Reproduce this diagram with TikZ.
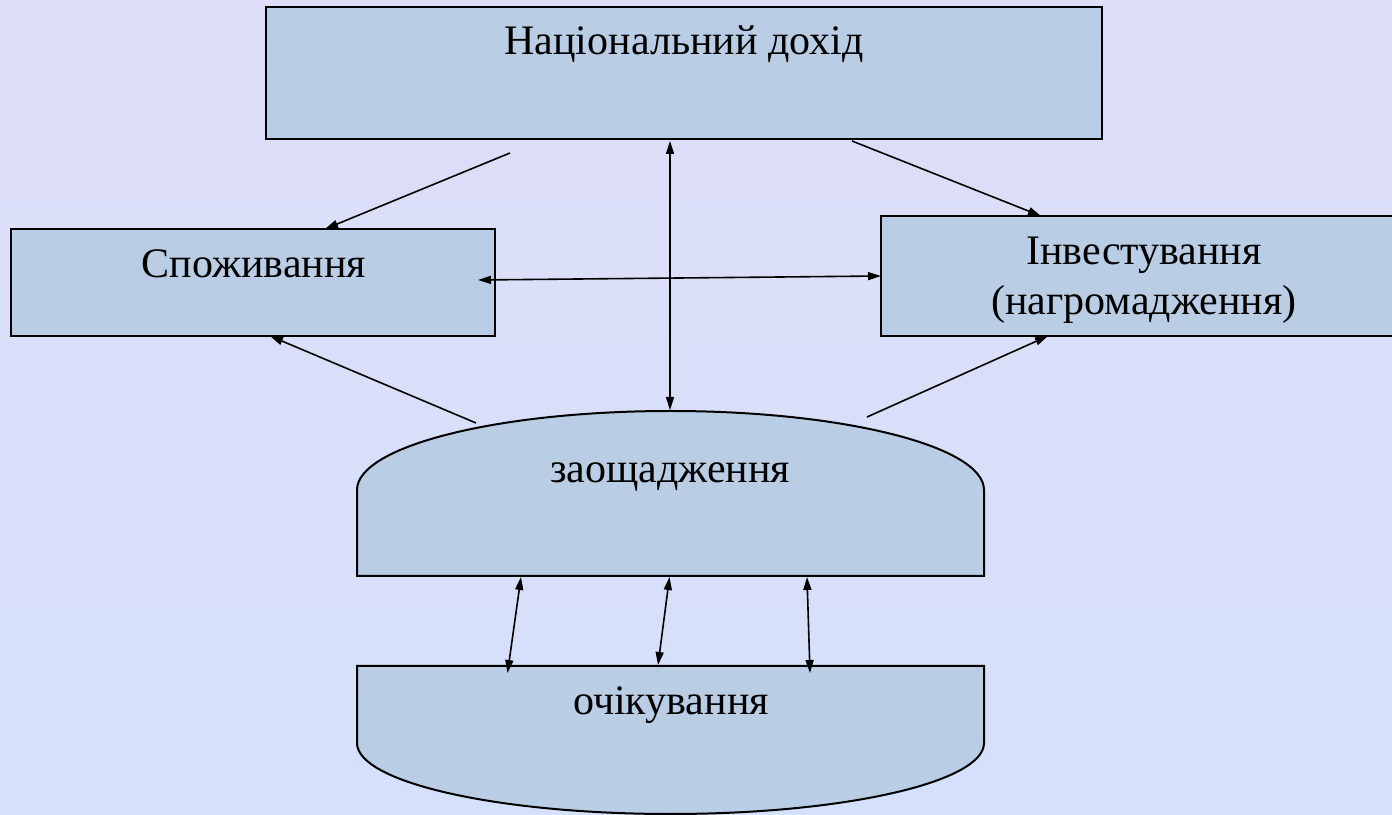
\documentclass[tikz,border=0pt]{standalone}
\usepackage{fontspec}
\setmainfont{Liberation Serif}
\usetikzlibrary{arrows.meta}
\definecolor{bgtop}{RGB}{222,222,246}
\definecolor{bgbot}{RGB}{212,224,252}
\definecolor{boxfill}{RGB}{185,205,229}
\tikzset{
  box/.style={draw=black, line width=2pt, fill=boxfill, rectangle, inner sep=0pt},
  lbl/.style={font=\fontsize{42}{50}\selectfont, inner sep=0pt, anchor=base, text=black},
  conn/.style={line width=1.6pt, -{Triangle[length=13pt,width=8pt]}},
  conn2/.style={line width=1.6pt, {Triangle[length=13pt,width=8pt]}-{Triangle[length=13pt,width=8pt]}},
}
\begin{document}
\begin{tikzpicture}[x=1pt,y=1pt]
\useasboundingbox (0,0) rectangle (1392,814);
\shade[top color=bgtop, bottom color=bgbot] (0,0) rectangle (1392,814);
\begin{scope}
\clip (0,0) rectangle (1392,814);
% boxes
\node[box, minimum width=836pt, minimum height=132pt] (nat) at (684,741) {};
\node[lbl] (natT) at (684,759) {Національний дохід};
\node[box, minimum width=484pt, minimum height=107pt] (cons) at (253,531.5) {};
\node[lbl] (consT) at (254,536) {Споживання};
\node[box, minimum width=524pt, minimum height=120pt] (inv) at (1143,538) {};
\node[lbl] (invT1) at (1144,549) {Інвестування};
\node[lbl] (invT2) at (1144,499) {(нагромадження)};
% savings shape
\draw[line width=2pt, fill=boxfill] (357,238) -- (357,324)
  arc[start angle=180, end angle=0, x radius=313.5pt, y radius=79pt] -- (984,238) -- cycle;
\coordinate (sav) at (670.5,300);
\node[lbl] (savT) at (670,331) {заощадження};
% expectations shape
\draw[line width=2pt, fill=boxfill] (357,148) -- (357,71)
  arc[start angle=180, end angle=360, x radius=313.5pt, y radius=71pt] -- (984,148) -- cycle;
\coordinate (exp) at (670.5,100);
\node[lbl] (expT) at (671,99) {очікування};
\end{scope}
% connector end points
\coordinate (n1) at (510,661);
\coordinate (c1) at (325,585);
\coordinate (n2) at (852,673);
\coordinate (i1) at (1041,598);
\coordinate (n3) at (670,673);
\coordinate (s3) at (670,404);
\coordinate (c4) at (478,534);
\coordinate (i4) at (881,538);
\coordinate (s5) at (476,391);
\coordinate (c5) at (270,478);
\coordinate (s6) at (867,397);
\coordinate (i6) at (1048,478);
\coordinate (sb1) at (521,237);
\coordinate (eb1) at (507.5,141);
\coordinate (sb2) at (669.5,237);
\coordinate (eb2) at (658,149);
\coordinate (sb3) at (807,237);
\coordinate (eb3) at (810,141);
% connectors
\draw[conn] (n1) -- (c1);
\draw[conn] (n2) -- (i1);
\draw[conn2] (n3) -- (s3);
\draw[conn2] (c4) -- (i4);
\draw[conn] (s5) -- (c5);
\draw[conn] (s6) -- (i6);
\draw[conn2] (sb1) -- (eb1);
\draw[conn2] (sb2) -- (eb2);
\draw[conn2] (sb3) -- (eb3);
\end{tikzpicture}
\end{document}
